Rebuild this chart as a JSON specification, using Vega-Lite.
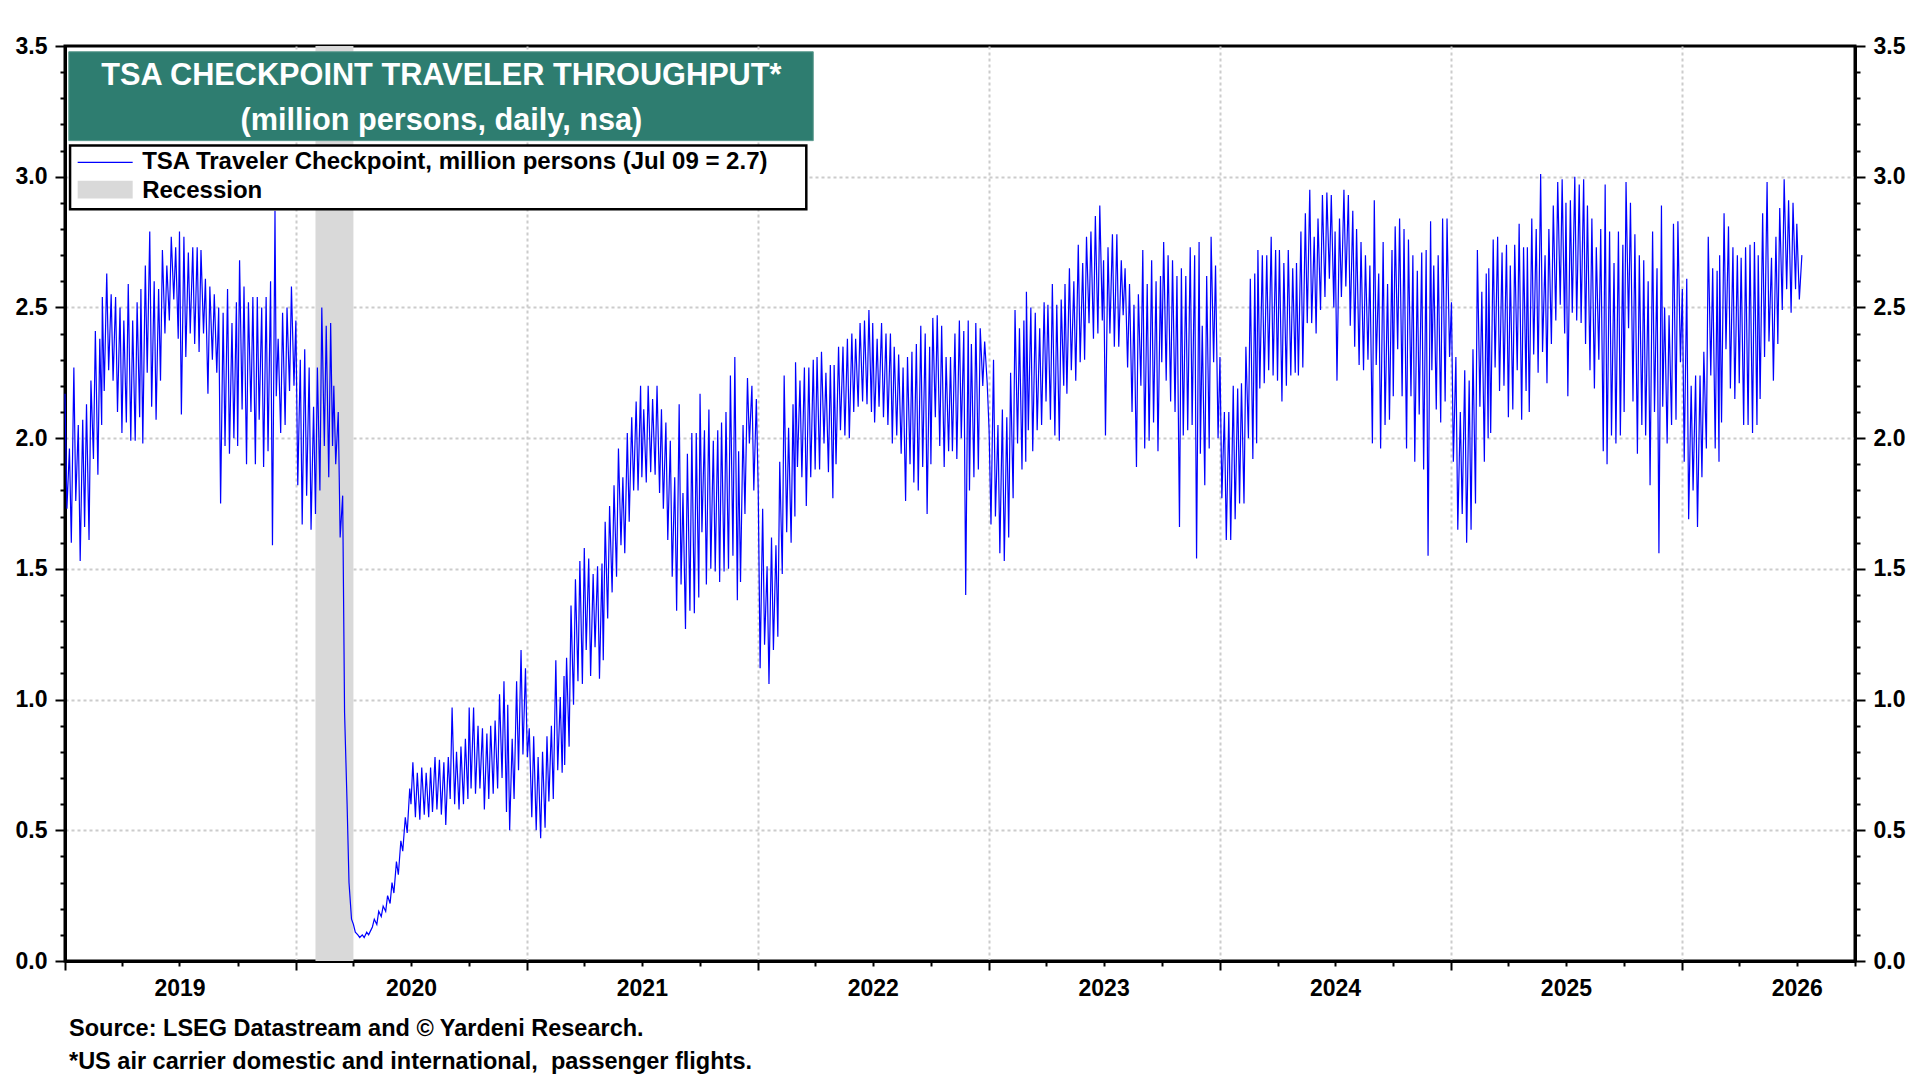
{
  "$schema": "https://vega.github.io/schema/vega-lite/v6.json",
  "width": 1790,
  "height": 915,
  "autosize": {"type": "none"},
  "padding": {"left": 65, "top": 46, "right": 65, "bottom": 119},
  "background": "white",
  "title": {
    "text": ["Source: LSEG Datastream and © Yardeni Research.", "*US air carrier domestic and international,\u00a0 passenger flights."],
    "orient": "bottom",
    "anchor": "start",
    "frame": "group",
    "offset": 13,
    "dx": 4,
    "font": "Liberation Sans",
    "fontSize": 23.5,
    "fontWeight": "bold",
    "color": "black",
    "lineHeight": 33
  },
  "config": {
    "view": {"stroke": "black", "strokeWidth": 3},
    "font": "Liberation Sans"
  },
  "data": {"values": [{}]},
  "resolve": {"axis": {"y": "independent"}},
  "layer": [
    {
      "data": {"values": [{"start": "2020-02-01", "end": "2020-04-01"}]},
      "mark": {"type": "rect", "fill": "#d9d9d9"},
      "encoding": {
        "x": {
          "field": "start",
          "type": "temporal",
          "scale": {"type": "utc", "domain": [{"year": 2019, "month": 1, "date": 1, "utc": true}, {"year": 2026, "month": 10, "date": 1, "utc": true}]},
          "axis": {
            "orient": "bottom",
            "values": [
              {"year": 2019, "month": 1, "date": 1, "utc": true}, {"year": 2019, "month": 4, "date": 1, "utc": true}, {"year": 2019, "month": 7, "date": 1, "utc": true}, {"year": 2019, "month": 10, "date": 1, "utc": true},
              {"year": 2020, "month": 1, "date": 1, "utc": true}, {"year": 2020, "month": 4, "date": 1, "utc": true}, {"year": 2020, "month": 7, "date": 1, "utc": true}, {"year": 2020, "month": 10, "date": 1, "utc": true},
              {"year": 2021, "month": 1, "date": 1, "utc": true}, {"year": 2021, "month": 4, "date": 1, "utc": true}, {"year": 2021, "month": 7, "date": 1, "utc": true}, {"year": 2021, "month": 10, "date": 1, "utc": true},
              {"year": 2022, "month": 1, "date": 1, "utc": true}, {"year": 2022, "month": 4, "date": 1, "utc": true}, {"year": 2022, "month": 7, "date": 1, "utc": true}, {"year": 2022, "month": 10, "date": 1, "utc": true},
              {"year": 2023, "month": 1, "date": 1, "utc": true}, {"year": 2023, "month": 4, "date": 1, "utc": true}, {"year": 2023, "month": 7, "date": 1, "utc": true}, {"year": 2023, "month": 10, "date": 1, "utc": true},
              {"year": 2024, "month": 1, "date": 1, "utc": true}, {"year": 2024, "month": 4, "date": 1, "utc": true}, {"year": 2024, "month": 7, "date": 1, "utc": true}, {"year": 2024, "month": 10, "date": 1, "utc": true},
              {"year": 2025, "month": 1, "date": 1, "utc": true}, {"year": 2025, "month": 4, "date": 1, "utc": true}, {"year": 2025, "month": 7, "date": 1, "utc": true}, {"year": 2025, "month": 10, "date": 1, "utc": true},
              {"year": 2026, "month": 1, "date": 1, "utc": true}, {"year": 2026, "month": 4, "date": 1, "utc": true}, {"year": 2026, "month": 7, "date": 1, "utc": true}, {"year": 2026, "month": 10, "date": 1, "utc": true}
            ],
            "domain": true,
            "domainColor": "black",
            "domainWidth": 3,
            "grid": true,
            "gridColor": "#cccccc",
            "gridDash": [3, 3],
            "gridWidth": 2,
            "gridOpacity": {"condition": {"test": "utcmonth(datum.value) == 0 && utcyear(datum.value) > 2019", "value": 1}, "value": 0},
            "tickColor": "black",
            "tickWidth": 2,
            "tickSize": {"condition": {"test": "utcmonth(datum.value) == 0", "value": 9}, "value": 5},
            "labelExpr": "utcmonth(datum.value) == 6 ? utcFormat(datum.value, '%Y') : ''",
            "labelFont": "Liberation Sans",
            "labelFontSize": 23,
            "labelFontWeight": "bold",
            "labelColor": "black",
            "labelPadding": 11,
            "labelOverlap": false,
            "labelFlush": false,
            "labelBound": false,
            "title": null
          }
        },
        "x2": {"field": "end"},
        "y": {
          "datum": 0,
          "type": "quantitative",
          "scale": {"domain": [0, 3.5], "nice": false},
          "axis": {
            "orient": "right",
            "values": [0,0.1,0.2,0.3,0.4,0.5,0.6,0.7,0.8,0.9,1,1.1,1.2,1.3,1.4,1.5,1.6,1.7,1.8,1.9,2,2.1,2.2,2.3,2.4,2.5,2.6,2.7,2.8,2.9,3,3.1,3.2,3.3,3.4,3.5],
            "domain": true,
            "domainColor": "black",
            "domainWidth": 3,
            "grid": false,
            "tickColor": "black",
            "tickWidth": 2,
            "tickSize": {"condition": {"test": "abs(datum.value*2 - round(datum.value*2)) < 0.01", "value": 10}, "value": 5},
            "labelExpr": "abs(datum.value*2 - round(datum.value*2)) < 0.01 ? format(datum.value, '.1f') : ''",
            "labelFont": "Liberation Sans",
            "labelFontSize": 23,
            "labelFontWeight": "bold",
            "labelColor": "black",
            "labelPadding": 8,
            "labelOverlap": false,
            "labelFlush": false,
            "labelBound": false,
            "title": null
          }
        },
        "y2": {"datum": 3.5}
      }
    },
    {
      "data": {
        "values": "d,v\n2019-01-01,2.17\n2019-01-04,1.73\n2019-01-08,1.96\n2019-01-11,1.6\n2019-01-15,2.27\n2019-01-18,1.76\n2019-01-22,2.05\n2019-01-25,1.53\n2019-01-29,2.07\n2019-02-01,1.66\n2019-02-04,2.13\n2019-02-08,1.61\n2019-02-11,2.22\n2019-02-15,1.92\n2019-02-18,2.41\n2019-02-22,1.86\n2019-02-25,2.38\n2019-02-28,2.05\n2019-03-01,2.54\n2019-03-04,2.18\n2019-03-08,2.63\n2019-03-11,2.26\n2019-03-15,2.55\n2019-03-18,2.22\n2019-03-22,2.54\n2019-03-25,2.1\n2019-03-29,2.5\n2019-04-01,2.02\n2019-04-04,2.45\n2019-04-08,2.06\n2019-04-11,2.59\n2019-04-15,1.99\n2019-04-18,2.45\n2019-04-22,1.99\n2019-04-25,2.52\n2019-04-29,2.08\n2019-05-01,2.57\n2019-05-04,1.98\n2019-05-08,2.66\n2019-05-11,2.25\n2019-05-15,2.79\n2019-05-18,2.12\n2019-05-22,2.6\n2019-05-25,2.07\n2019-05-29,2.57\n2019-06-01,2.22\n2019-06-04,2.72\n2019-06-08,2.4\n2019-06-11,2.66\n2019-06-15,2.45\n2019-06-18,2.77\n2019-06-22,2.53\n2019-06-25,2.73\n2019-06-29,2.38\n2019-07-01,2.79\n2019-07-04,2.09\n2019-07-08,2.77\n2019-07-11,2.31\n2019-07-15,2.71\n2019-07-18,2.4\n2019-07-22,2.73\n2019-07-25,2.36\n2019-07-29,2.73\n2019-08-01,2.33\n2019-08-04,2.72\n2019-08-08,2.4\n2019-08-11,2.61\n2019-08-15,2.17\n2019-08-18,2.58\n2019-08-22,2.3\n2019-08-25,2.55\n2019-08-29,2.25\n2019-09-01,2.5\n2019-09-04,1.75\n2019-09-08,2.48\n2019-09-11,1.97\n2019-09-15,2.57\n2019-09-18,1.94\n2019-09-22,2.44\n2019-09-25,2.0\n2019-09-29,2.52\n2019-10-01,1.97\n2019-10-04,2.68\n2019-10-08,2.11\n2019-10-11,2.58\n2019-10-15,1.9\n2019-10-18,2.52\n2019-10-22,2.1\n2019-10-25,2.54\n2019-10-29,1.9\n2019-11-01,2.54\n2019-11-04,2.07\n2019-11-08,2.5\n2019-11-11,1.89\n2019-11-15,2.54\n2019-11-18,1.95\n2019-11-22,2.6\n2019-11-25,1.59\n2019-11-29,2.87\n2019-12-01,2.16\n2019-12-04,2.38\n2019-12-08,2.02\n2019-12-11,2.48\n2019-12-15,2.05\n2019-12-18,2.5\n2019-12-22,2.18\n2019-12-25,2.58\n2019-12-29,2.2\n2020-01-01,2.45\n2020-01-04,1.82\n2020-01-08,2.3\n2020-01-11,1.67\n2020-01-15,2.34\n2020-01-18,1.78\n2020-01-22,2.27\n2020-01-25,1.65\n2020-01-29,2.12\n2020-02-01,1.71\n2020-02-04,2.27\n2020-02-08,1.8\n2020-02-11,2.5\n2020-02-15,1.97\n2020-02-18,2.43\n2020-02-22,1.85\n2020-02-25,2.44\n2020-02-28,1.97\n2020-03-01,2.2\n2020-03-04,1.9\n2020-03-08,2.1\n2020-03-11,1.62\n2020-03-15,1.78\n2020-03-18,0.95\n2020-03-22,0.6\n2020-03-25,0.3\n2020-03-29,0.16\n2020-04-01,0.14\n2020-04-04,0.11\n2020-04-08,0.1\n2020-04-11,0.09\n2020-04-15,0.1\n2020-04-18,0.09\n2020-04-22,0.11\n2020-04-25,0.1\n2020-04-29,0.12\n2020-05-01,0.13\n2020-05-04,0.16\n2020-05-08,0.14\n2020-05-11,0.19\n2020-05-15,0.17\n2020-05-18,0.21\n2020-05-22,0.19\n2020-05-25,0.25\n2020-05-29,0.22\n2020-06-01,0.3\n2020-06-04,0.26\n2020-06-08,0.38\n2020-06-11,0.33\n2020-06-15,0.46\n2020-06-18,0.42\n2020-06-22,0.55\n2020-06-25,0.49\n2020-06-29,0.66\n2020-07-01,0.6\n2020-07-04,0.76\n2020-07-08,0.55\n2020-07-11,0.72\n2020-07-15,0.54\n2020-07-18,0.74\n2020-07-22,0.56\n2020-07-25,0.72\n2020-07-29,0.55\n2020-08-01,0.74\n2020-08-04,0.57\n2020-08-08,0.78\n2020-08-11,0.58\n2020-08-15,0.77\n2020-08-18,0.56\n2020-08-22,0.76\n2020-08-25,0.52\n2020-08-29,0.78\n2020-09-01,0.62\n2020-09-04,0.97\n2020-09-08,0.6\n2020-09-11,0.8\n2020-09-15,0.58\n2020-09-18,0.82\n2020-09-22,0.6\n2020-09-25,0.85\n2020-09-29,0.62\n2020-10-01,0.97\n2020-10-04,0.66\n2020-10-08,0.97\n2020-10-11,0.64\n2020-10-15,0.9\n2020-10-18,0.66\n2020-10-22,0.89\n2020-10-25,0.58\n2020-10-29,0.87\n2020-11-01,0.62\n2020-11-04,0.9\n2020-11-08,0.64\n2020-11-11,0.92\n2020-11-15,0.66\n2020-11-18,1.02\n2020-11-22,0.7\n2020-11-25,1.07\n2020-11-29,0.57\n2020-12-01,0.98\n2020-12-04,0.5\n2020-12-08,0.85\n2020-12-11,0.62\n2020-12-15,1.07\n2020-12-18,0.73\n2020-12-22,1.19\n2020-12-25,0.79\n2020-12-29,1.12\n2021-01-01,0.78\n2021-01-04,0.89\n2021-01-08,0.55\n2021-01-11,0.86\n2021-01-15,0.5\n2021-01-18,0.78\n2021-01-22,0.47\n2021-01-25,0.8\n2021-01-29,0.51\n2021-02-01,0.86\n2021-02-04,0.61\n2021-02-08,0.9\n2021-02-11,0.62\n2021-02-15,1.15\n2021-02-18,0.73\n2021-02-22,1.01\n2021-02-25,0.72\n2021-02-28,1.09\n2021-03-01,0.75\n2021-03-04,1.16\n2021-03-08,0.82\n2021-03-11,1.36\n2021-03-15,0.98\n2021-03-18,1.46\n2021-03-22,1.07\n2021-03-25,1.53\n2021-03-29,1.06\n2021-04-01,1.58\n2021-04-04,1.19\n2021-04-08,1.54\n2021-04-11,1.09\n2021-04-15,1.48\n2021-04-18,1.2\n2021-04-22,1.51\n2021-04-25,1.08\n2021-04-29,1.52\n2021-05-01,1.15\n2021-05-04,1.68\n2021-05-08,1.31\n2021-05-11,1.74\n2021-05-15,1.41\n2021-05-18,1.82\n2021-05-22,1.47\n2021-05-25,1.96\n2021-05-29,1.59\n2021-06-01,1.85\n2021-06-04,1.56\n2021-06-08,2.02\n2021-06-11,1.68\n2021-06-15,2.08\n2021-06-18,1.8\n2021-06-22,2.14\n2021-06-25,1.8\n2021-06-29,2.2\n2021-07-01,1.85\n2021-07-04,2.11\n2021-07-08,1.83\n2021-07-11,2.2\n2021-07-15,1.87\n2021-07-18,2.15\n2021-07-22,1.86\n2021-07-25,2.2\n2021-07-29,1.79\n2021-08-01,2.11\n2021-08-04,1.73\n2021-08-08,2.06\n2021-08-11,1.61\n2021-08-15,1.99\n2021-08-18,1.47\n2021-08-22,1.85\n2021-08-25,1.34\n2021-08-29,2.13\n2021-09-01,1.44\n2021-09-04,1.79\n2021-09-08,1.27\n2021-09-11,1.94\n2021-09-15,1.34\n2021-09-18,2.02\n2021-09-22,1.33\n2021-09-25,2.02\n2021-09-29,1.39\n2021-10-01,2.17\n2021-10-04,1.64\n2021-10-08,2.03\n2021-10-11,1.44\n2021-10-15,2.11\n2021-10-18,1.5\n2021-10-22,1.99\n2021-10-25,1.49\n2021-10-29,2.03\n2021-11-01,1.45\n2021-11-04,2.06\n2021-11-08,1.49\n2021-11-11,2.1\n2021-11-15,1.5\n2021-11-18,2.24\n2021-11-22,1.55\n2021-11-25,2.31\n2021-11-29,1.38\n2021-12-01,1.95\n2021-12-04,1.45\n2021-12-08,2.05\n2021-12-11,1.71\n2021-12-15,2.23\n2021-12-18,1.98\n2021-12-22,2.2\n2021-12-25,1.8\n2021-12-29,2.15\n2022-01-01,1.8\n2022-01-04,1.12\n2022-01-08,1.73\n2022-01-11,1.21\n2022-01-15,1.51\n2022-01-18,1.06\n2022-01-22,1.62\n2022-01-25,1.19\n2022-01-29,1.59\n2022-02-01,1.24\n2022-02-04,1.91\n2022-02-08,1.48\n2022-02-11,2.24\n2022-02-15,1.64\n2022-02-18,2.04\n2022-02-22,1.6\n2022-02-25,2.13\n2022-02-28,1.7\n2022-03-01,2.29\n2022-03-04,1.89\n2022-03-08,2.22\n2022-03-11,1.85\n2022-03-15,2.27\n2022-03-18,1.74\n2022-03-22,2.27\n2022-03-25,1.85\n2022-03-29,2.3\n2022-04-01,1.88\n2022-04-04,2.31\n2022-04-08,1.88\n2022-04-11,2.33\n2022-04-15,1.98\n2022-04-18,2.25\n2022-04-22,1.87\n2022-04-25,2.28\n2022-04-29,1.77\n2022-05-01,2.28\n2022-05-04,1.9\n2022-05-08,2.35\n2022-05-11,2.03\n2022-05-15,2.35\n2022-05-18,2.01\n2022-05-22,2.38\n2022-05-25,2.0\n2022-05-29,2.4\n2022-06-01,2.1\n2022-06-04,2.38\n2022-06-08,2.12\n2022-06-11,2.44\n2022-06-15,2.14\n2022-06-18,2.45\n2022-06-22,2.13\n2022-06-25,2.49\n2022-06-29,2.1\n2022-07-01,2.44\n2022-07-04,2.06\n2022-07-08,2.38\n2022-07-11,2.12\n2022-07-15,2.44\n2022-07-18,2.08\n2022-07-22,2.4\n2022-07-25,2.05\n2022-07-29,2.4\n2022-08-01,1.98\n2022-08-04,2.35\n2022-08-08,2.01\n2022-08-11,2.32\n2022-08-15,1.94\n2022-08-18,2.27\n2022-08-22,1.76\n2022-08-25,2.31\n2022-08-29,1.9\n2022-09-01,2.33\n2022-09-04,1.83\n2022-09-08,2.36\n2022-09-11,1.8\n2022-09-15,2.43\n2022-09-18,1.89\n2022-09-22,2.4\n2022-09-25,1.71\n2022-09-29,2.35\n2022-10-01,1.9\n2022-10-04,2.46\n2022-10-08,2.08\n2022-10-11,2.47\n2022-10-15,1.97\n2022-10-18,2.43\n2022-10-22,1.89\n2022-10-25,2.31\n2022-10-29,1.95\n2022-11-01,2.31\n2022-11-04,1.95\n2022-11-08,2.4\n2022-11-11,1.92\n2022-11-15,2.45\n2022-11-18,2.0\n2022-11-22,2.41\n2022-11-25,1.4\n2022-11-29,2.45\n2022-12-01,1.8\n2022-12-04,2.36\n2022-12-08,1.85\n2022-12-11,2.44\n2022-12-15,1.88\n2022-12-18,2.42\n2022-12-22,2.2\n2022-12-25,2.37\n2022-12-29,2.21\n2023-01-01,2.03\n2023-01-04,1.67\n2023-01-08,2.3\n2023-01-11,1.7\n2023-01-15,2.05\n2023-01-18,1.56\n2023-01-22,2.11\n2023-01-25,1.53\n2023-01-29,2.08\n2023-02-01,1.62\n2023-02-04,2.25\n2023-02-08,1.77\n2023-02-11,2.49\n2023-02-15,1.98\n2023-02-18,2.42\n2023-02-22,1.88\n2023-02-25,2.45\n2023-02-28,1.91\n2023-03-01,2.56\n2023-03-04,2.03\n2023-03-08,2.5\n2023-03-11,1.95\n2023-03-15,2.48\n2023-03-18,2.03\n2023-03-22,2.42\n2023-03-25,2.05\n2023-03-29,2.52\n2023-04-01,2.14\n2023-04-04,2.51\n2023-04-08,2.07\n2023-04-11,2.59\n2023-04-15,2.01\n2023-04-18,2.51\n2023-04-22,1.99\n2023-04-25,2.53\n2023-04-29,2.2\n2023-05-01,2.59\n2023-05-04,2.17\n2023-05-08,2.65\n2023-05-11,2.26\n2023-05-15,2.6\n2023-05-18,2.22\n2023-05-22,2.74\n2023-05-25,2.29\n2023-05-29,2.67\n2023-06-01,2.3\n2023-06-04,2.77\n2023-06-08,2.44\n2023-06-11,2.79\n2023-06-15,2.38\n2023-06-18,2.85\n2023-06-22,2.4\n2023-06-25,2.89\n2023-06-29,2.45\n2023-07-01,2.68\n2023-07-04,2.01\n2023-07-08,2.73\n2023-07-11,2.4\n2023-07-15,2.78\n2023-07-18,2.35\n2023-07-22,2.78\n2023-07-25,2.35\n2023-07-29,2.68\n2023-08-01,2.47\n2023-08-04,2.65\n2023-08-08,2.27\n2023-08-11,2.59\n2023-08-15,2.1\n2023-08-18,2.51\n2023-08-22,1.89\n2023-08-25,2.55\n2023-08-29,2.2\n2023-09-01,2.72\n2023-09-04,1.96\n2023-09-08,2.59\n2023-09-11,1.99\n2023-09-15,2.68\n2023-09-18,2.06\n2023-09-22,2.6\n2023-09-25,1.95\n2023-09-29,2.62\n2023-10-01,2.29\n2023-10-04,2.75\n2023-10-08,2.22\n2023-10-11,2.7\n2023-10-15,2.14\n2023-10-18,2.68\n2023-10-22,2.1\n2023-10-25,2.62\n2023-10-29,1.66\n2023-11-01,2.65\n2023-11-04,2.01\n2023-11-08,2.62\n2023-11-11,2.03\n2023-11-15,2.73\n2023-11-18,2.05\n2023-11-22,2.7\n2023-11-25,1.54\n2023-11-29,2.75\n2023-12-01,1.94\n2023-12-04,2.43\n2023-12-08,1.82\n2023-12-11,2.62\n2023-12-15,1.96\n2023-12-18,2.77\n2023-12-22,2.29\n2023-12-25,2.66\n2023-12-29,2.0\n2024-01-01,2.31\n2024-01-04,1.77\n2024-01-08,2.1\n2024-01-11,1.61\n2024-01-15,2.1\n2024-01-18,1.61\n2024-01-22,2.2\n2024-01-25,1.69\n2024-01-29,2.19\n2024-02-01,1.75\n2024-02-04,2.21\n2024-02-08,1.75\n2024-02-11,2.35\n2024-02-15,2.0\n2024-02-18,2.61\n2024-02-22,1.92\n2024-02-25,2.63\n2024-02-28,1.98\n2024-03-01,2.72\n2024-03-04,2.19\n2024-03-08,2.7\n2024-03-11,2.21\n2024-03-15,2.7\n2024-03-18,2.26\n2024-03-22,2.77\n2024-03-25,2.24\n2024-03-29,2.72\n2024-04-01,2.22\n2024-04-04,2.72\n2024-04-08,2.14\n2024-04-11,2.67\n2024-04-15,2.2\n2024-04-18,2.72\n2024-04-22,2.24\n2024-04-25,2.65\n2024-04-29,2.25\n2024-05-01,2.67\n2024-05-04,2.24\n2024-05-08,2.79\n2024-05-11,2.27\n2024-05-15,2.86\n2024-05-18,2.44\n2024-05-22,2.95\n2024-05-25,2.44\n2024-05-29,2.77\n2024-06-01,2.4\n2024-06-04,2.84\n2024-06-08,2.49\n2024-06-11,2.93\n2024-06-15,2.54\n2024-06-18,2.94\n2024-06-22,2.61\n2024-06-25,2.93\n2024-06-29,2.5\n2024-07-01,2.79\n2024-07-04,2.22\n2024-07-08,2.84\n2024-07-11,2.54\n2024-07-15,2.95\n2024-07-18,2.58\n2024-07-22,2.93\n2024-07-25,2.43\n2024-07-29,2.87\n2024-08-01,2.35\n2024-08-04,2.8\n2024-08-08,2.28\n2024-08-11,2.75\n2024-08-15,2.26\n2024-08-18,2.7\n2024-08-22,2.3\n2024-08-25,2.66\n2024-08-29,1.98\n2024-09-01,2.91\n2024-09-04,2.28\n2024-09-08,2.63\n2024-09-11,1.96\n2024-09-15,2.75\n2024-09-18,2.05\n2024-09-22,2.59\n2024-09-25,2.07\n2024-09-29,2.72\n2024-10-01,2.16\n2024-10-04,2.81\n2024-10-08,2.34\n2024-10-11,2.84\n2024-10-15,2.16\n2024-10-18,2.8\n2024-10-22,1.96\n2024-10-25,2.76\n2024-10-29,2.16\n2024-11-01,2.7\n2024-11-04,1.91\n2024-11-08,2.64\n2024-11-11,2.09\n2024-11-15,2.71\n2024-11-18,1.88\n2024-11-22,2.72\n2024-11-25,1.55\n2024-11-29,2.83\n2024-12-01,2.26\n2024-12-04,2.66\n2024-12-08,2.11\n2024-12-11,2.7\n2024-12-15,2.06\n2024-12-18,2.84\n2024-12-22,2.14\n2024-12-25,2.84\n2024-12-29,2.31\n2025-01-01,2.52\n2025-01-04,1.91\n2025-01-08,2.31\n2025-01-11,1.65\n2025-01-15,2.1\n2025-01-18,1.71\n2025-01-22,2.26\n2025-01-25,1.6\n2025-01-29,2.22\n2025-02-01,1.65\n2025-02-04,2.34\n2025-02-08,1.75\n2025-02-11,2.72\n2025-02-15,2.12\n2025-02-18,2.56\n2025-02-22,1.91\n2025-02-25,2.63\n2025-02-28,2.0\n2025-03-01,2.65\n2025-03-04,2.02\n2025-03-08,2.76\n2025-03-11,2.27\n2025-03-15,2.77\n2025-03-18,2.18\n2025-03-22,2.71\n2025-03-25,2.2\n2025-03-29,2.74\n2025-04-01,2.08\n2025-04-04,2.66\n2025-04-08,2.11\n2025-04-11,2.74\n2025-04-15,2.26\n2025-04-18,2.82\n2025-04-22,2.07\n2025-04-25,2.73\n2025-04-29,2.18\n2025-05-01,2.73\n2025-05-04,2.1\n2025-05-08,2.84\n2025-05-11,2.32\n2025-05-15,2.8\n2025-05-18,2.25\n2025-05-22,3.01\n2025-05-25,2.33\n2025-05-29,2.7\n2025-06-01,2.21\n2025-06-04,2.8\n2025-06-08,2.36\n2025-06-11,2.89\n2025-06-15,2.45\n2025-06-18,2.98\n2025-06-22,2.51\n2025-06-25,2.99\n2025-06-29,2.4\n2025-07-01,2.9\n2025-07-04,2.16\n2025-07-08,2.91\n2025-07-11,2.48\n2025-07-15,3.0\n2025-07-18,2.45\n2025-07-22,2.97\n2025-07-25,2.44\n2025-07-29,2.99\n2025-08-01,2.36\n2025-08-04,2.89\n2025-08-08,2.26\n2025-08-11,2.84\n2025-08-15,2.19\n2025-08-18,2.73\n2025-08-22,2.3\n2025-08-25,2.8\n2025-08-29,1.95\n2025-09-01,2.97\n2025-09-04,1.9\n2025-09-08,2.79\n2025-09-11,2.01\n2025-09-15,2.67\n2025-09-18,1.98\n2025-09-22,2.79\n2025-09-25,2.01\n2025-09-29,2.74\n2025-10-01,2.1\n2025-10-04,2.98\n2025-10-08,2.42\n2025-10-11,2.9\n2025-10-15,2.14\n2025-10-18,2.78\n2025-10-22,1.94\n2025-10-25,2.7\n2025-10-29,2.05\n2025-11-01,2.68\n2025-11-04,2.01\n2025-11-08,2.6\n2025-11-11,1.82\n2025-11-15,2.79\n2025-11-18,2.1\n2025-11-22,2.65\n2025-11-25,1.56\n2025-11-29,2.89\n2025-12-01,2.12\n2025-12-04,2.5\n2025-12-08,1.98\n2025-12-11,2.47\n2025-12-15,2.05\n2025-12-18,2.82\n2025-12-22,2.07\n2025-12-25,2.83\n2025-12-29,2.29\n2026-01-01,2.57\n2026-01-04,1.91\n2026-01-08,2.61\n2026-01-11,1.69\n2026-01-15,2.2\n2026-01-18,1.8\n2026-01-22,2.24\n2026-01-25,1.66\n2026-01-29,2.24\n2026-02-01,1.85\n2026-02-04,2.33\n2026-02-08,1.96\n2026-02-11,2.77\n2026-02-15,2.24\n2026-02-18,2.65\n2026-02-22,1.96\n2026-02-25,2.64\n2026-02-28,1.91\n2026-03-01,2.7\n2026-03-04,2.06\n2026-03-08,2.86\n2026-03-11,2.34\n2026-03-15,2.81\n2026-03-18,2.19\n2026-03-22,2.73\n2026-03-25,2.15\n2026-03-29,2.7\n2026-04-01,2.21\n2026-04-04,2.69\n2026-04-08,2.05\n2026-04-11,2.73\n2026-04-15,2.05\n2026-04-18,2.74\n2026-04-22,2.02\n2026-04-25,2.75\n2026-04-29,2.05\n2026-05-01,2.7\n2026-05-04,2.15\n2026-05-08,2.86\n2026-05-11,2.31\n2026-05-15,2.98\n2026-05-18,2.37\n2026-05-22,2.69\n2026-05-25,2.22\n2026-05-29,2.77\n2026-06-01,2.36\n2026-06-04,2.88\n2026-06-08,2.49\n2026-06-11,2.99\n2026-06-15,2.57\n2026-06-18,2.91\n2026-06-22,2.48\n2026-06-25,2.9\n2026-06-29,2.57\n2026-07-01,2.82\n2026-07-05,2.53\n2026-07-09,2.7",
        "format": {"type": "csv"}
      },
      "mark": {"type": "line", "color": "#0000ff", "strokeWidth": 1.2},
      "encoding": {
        "x": {"field": "d", "type": "temporal"},
        "y": {
          "field": "v",
          "type": "quantitative",
          "scale": {"domain": [0, 3.5], "nice": false},
          "axis": {
            "orient": "left",
            "values": [0,0.1,0.2,0.3,0.4,0.5,0.6,0.7,0.8,0.9,1,1.1,1.2,1.3,1.4,1.5,1.6,1.7,1.8,1.9,2,2.1,2.2,2.3,2.4,2.5,2.6,2.7,2.8,2.9,3,3.1,3.2,3.3,3.4,3.5],
            "domain": true,
            "domainColor": "black",
            "domainWidth": 3,
            "grid": true,
            "gridColor": "#cccccc",
            "gridDash": [3, 3],
            "gridWidth": 2,
            "gridOpacity": {"condition": {"test": "abs(datum.value*2 - round(datum.value*2)) < 0.01 && datum.value > 0.01 && datum.value < 3.49", "value": 1}, "value": 0},
            "tickColor": "black",
            "tickWidth": 2,
            "tickSize": {"condition": {"test": "abs(datum.value*2 - round(datum.value*2)) < 0.01", "value": 10}, "value": 5},
            "labelExpr": "abs(datum.value*2 - round(datum.value*2)) < 0.01 ? format(datum.value, '.1f') : ''",
            "labelFont": "Liberation Sans",
            "labelFontSize": 23,
            "labelFontWeight": "bold",
            "labelColor": "black",
            "labelPadding": 8,
            "labelOverlap": false,
            "labelFlush": false,
            "labelBound": false,
            "title": null
          }
        }
      }
    },
    {
      "mark": {"type": "rect", "fill": "#2e7d70", "stroke": "#5c9b8f", "strokeWidth": 1},
      "encoding": {
        "x": {"datum": {"year": 2019, "month": 1, "date": 7, "utc": true}, "type": "temporal"},
        "x2": {"datum": {"year": 2022, "month": 3, "date": 29, "utc": true}},
        "y": {"datum": 3.478, "type": "quantitative", "axis": null},
        "y2": {"datum": 3.138}
      }
    },
    {
      "mark": {"type": "text", "text": "TSA CHECKPOINT TRAVELER THROUGHPUT*", "font": "Liberation Sans", "fontWeight": "bold", "fontSize": 30.7, "color": "white", "align": "center", "baseline": "middle"},
      "encoding": {
        "x": {"datum": {"year": 2020, "month": 8, "date": 18, "utc": true}, "type": "temporal"},
        "y": {"datum": 3.385, "type": "quantitative", "axis": null}
      }
    },
    {
      "mark": {"type": "text", "text": "(million persons, daily, nsa)", "font": "Liberation Sans", "fontWeight": "bold", "fontSize": 30.7, "color": "white", "align": "center", "baseline": "middle"},
      "encoding": {
        "x": {"datum": {"year": 2020, "month": 8, "date": 18, "utc": true}, "type": "temporal"},
        "y": {"datum": 3.215, "type": "quantitative", "axis": null}
      }
    },
    {
      "mark": {"type": "rect", "fill": "white", "stroke": "black", "strokeWidth": 2.5},
      "encoding": {
        "x": {"datum": {"year": 2019, "month": 1, "date": 9, "utc": true}, "type": "temporal"},
        "x2": {"datum": {"year": 2022, "month": 3, "date": 18, "utc": true}},
        "y": {"datum": 3.119, "type": "quantitative", "axis": null},
        "y2": {"datum": 2.876}
      }
    },
    {
      "mark": {"type": "rule", "color": "#0000ff", "strokeWidth": 1.3},
      "encoding": {
        "x": {"datum": {"year": 2019, "month": 1, "date": 21, "utc": true}, "type": "temporal"},
        "x2": {"datum": {"year": 2019, "month": 4, "date": 18, "utc": true}},
        "y": {"datum": 3.055, "type": "quantitative", "axis": null}
      }
    },
    {
      "mark": {"type": "rect", "fill": "#d9d9d9"},
      "encoding": {
        "x": {"datum": {"year": 2019, "month": 1, "date": 21, "utc": true}, "type": "temporal"},
        "x2": {"datum": {"year": 2019, "month": 4, "date": 18, "utc": true}},
        "y": {"datum": 2.985, "type": "quantitative", "axis": null},
        "y2": {"datum": 2.917}
      }
    },
    {
      "mark": {"type": "text", "text": "TSA Traveler Checkpoint, million persons (Jul 09 = 2.7)", "font": "Liberation Sans", "fontWeight": "bold", "fontSize": 24, "color": "black", "align": "left", "baseline": "middle"},
      "encoding": {
        "x": {"datum": {"year": 2019, "month": 5, "date": 3, "utc": true}, "type": "temporal"},
        "y": {"datum": 3.058, "type": "quantitative", "axis": null}
      }
    },
    {
      "mark": {"type": "text", "text": "Recession", "font": "Liberation Sans", "fontWeight": "bold", "fontSize": 24, "color": "black", "align": "left", "baseline": "middle"},
      "encoding": {
        "x": {"datum": {"year": 2019, "month": 5, "date": 3, "utc": true}, "type": "temporal"},
        "y": {"datum": 2.945, "type": "quantitative", "axis": null}
      }
    }
  ]
}
